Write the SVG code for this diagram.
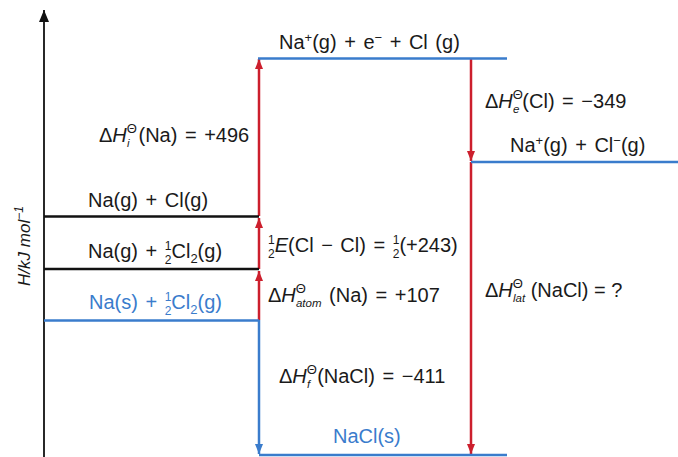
<svg xmlns="http://www.w3.org/2000/svg" width="678" height="457" viewBox="0 0 678 457">
<defs>
<style>
text{font-family:"Liberation Sans","DejaVu Sans",sans-serif;font-size:20px;fill:#1a1a1a;word-spacing:2px}
.b{fill:#3a7ccc}
.it{font-style:italic}
.s{font-size:13px}
.fr{font-size:12px}
.sub{font-size:11.5px;font-style:italic}
.lvK{stroke:#111;stroke-width:2.5;fill:none}
.lvB{stroke:#3a7ccc;stroke-width:2.5;fill:none}
.ar{stroke:#cc1f2d;stroke-width:2.5;fill:none}
.ab{stroke:#3a7ccc;stroke-width:2.5;fill:none}
</style>
<marker id="mr" viewBox="0 0 10 8" refX="10" refY="4" markerWidth="10" markerHeight="8" markerUnits="userSpaceOnUse" orient="auto"><path d="M0,0 L10,4 L0,8 z" fill="#cc1f2d"/></marker>
<marker id="mb" viewBox="0 0 10 8" refX="10" refY="4" markerWidth="10" markerHeight="8" markerUnits="userSpaceOnUse" orient="auto"><path d="M0,0 L10,4 L0,8 z" fill="#3a7ccc"/></marker>
<marker id="mk" viewBox="0 0 12 10" refX="12" refY="5" markerWidth="12" markerHeight="10" markerUnits="userSpaceOnUse" orient="auto"><path d="M0,0 L12,5 L0,10 z" fill="#111"/></marker>
</defs>

<g id="axis">
<line x1="44" y1="457" x2="44" y2="10" stroke="#111" stroke-width="1.8" marker-end="url(#mk)"/>
<text class="it" transform="translate(30,246) rotate(-90)" text-anchor="middle" style="font-size:17px;word-spacing:0">H/kJ mol<tspan style="font-size:12px" dy="-7">−1</tspan></text>
</g>

<g id="connectors">
<line class="ar" x1="259" y1="320" x2="259" y2="271" marker-end="url(#mr)"/>
<line class="ar" x1="259" y1="269" x2="259" y2="218" marker-end="url(#mr)"/>
<line class="ar" x1="259" y1="216" x2="259" y2="59" marker-end="url(#mr)"/>
<line class="ar" x1="471" y1="59" x2="471" y2="161" marker-end="url(#mr)"/>
<line class="ar" x1="471" y1="162" x2="471" y2="454" marker-end="url(#mr)"/>
<line class="ab" x1="259" y1="320" x2="259" y2="454" marker-end="url(#mb)"/>
</g>

<g id="level-ion-e">
<line class="lvB" x1="258" y1="58.5" x2="507" y2="58.5"/>
<text x="279" y="49">Na<tspan class="s" dy="-7">+</tspan><tspan dy="7">(g) + e</tspan><tspan class="s" dy="-7">−</tspan><tspan dy="7"> + Cl (g)</tspan></text>
</g>

<g id="level-ions">
<line class="lvB" x1="471" y1="162" x2="678" y2="162"/>
<text x="510" y="152">Na<tspan class="s" dy="-7">+</tspan><tspan dy="7">(g) + Cl</tspan><tspan class="s" dy="-7">−</tspan><tspan dy="7">(g)</tspan></text>
</g>

<g id="level-atoms">
<line class="lvK" x1="44" y1="216.5" x2="259" y2="216.5"/>
<text x="88" y="207">Na(g) + Cl(g)</text>
</g>

<g id="level-na-g">
<line class="lvK" x1="44" y1="269" x2="259" y2="269"/>
<text x="88" y="258">Na(g) + <tspan class="fr" dy="-8.5">1</tspan><tspan class="fr" dx="-6.7" dy="14">2</tspan><tspan dy="-5.5">Cl</tspan><tspan class="s" dy="5">2</tspan><tspan dy="-5">(g)</tspan></text>
</g>

<g id="level-elements">
<line class="lvB" x1="44" y1="320.5" x2="259" y2="320.5"/>
<text class="b" x="89" y="309">Na(s) + <tspan class="fr" dy="-8.5">1</tspan><tspan class="fr" dx="-6.7" dy="14">2</tspan><tspan dy="-5.5">Cl</tspan><tspan class="s" dy="5">2</tspan><tspan dy="-5">(g)</tspan></text>
</g>

<g id="level-nacl">
<line class="lvB" x1="259" y1="455" x2="507" y2="455"/>
<text class="b" x="333" y="443">NaCl(s)</text>
</g>

<g id="labels">
<text x="99" y="142">Δ<tspan class="it">H</tspan><tspan class="s" dy="-9">Θ</tspan><tspan class="sub" dx="-10" dy="14">i</tspan><tspan dx="9" dy="-5">(Na) = +496</tspan></text>
<text x="268" y="252"><tspan class="fr" dy="-8.5">1</tspan><tspan class="fr" dx="-6.7" dy="14">2</tspan><tspan class="it" dy="-5.5">E</tspan><tspan>(Cl − Cl) = </tspan><tspan class="fr" dy="-8.5">1</tspan><tspan class="fr" dx="-6.7" dy="14">2</tspan><tspan dy="-5.5">(+243)</tspan></text>
<text x="268" y="302">Δ<tspan class="it">H</tspan><tspan class="s" dy="-9">Θ</tspan><tspan class="sub" dx="-10" dy="14">atom</tspan><tspan dy="-5"> (Na) = +107</tspan></text>
<text x="279" y="383">Δ<tspan class="it">H</tspan><tspan class="s" dy="-9">Θ</tspan><tspan class="sub" dx="-10" dy="14">f</tspan><tspan dx="7" dy="-5">(NaCl) = −411</tspan></text>
<text x="485" y="108">Δ<tspan class="it">H</tspan><tspan class="s" dy="-9">Θ</tspan><tspan class="sub" dx="-10" dy="14">e</tspan><tspan dx="3" dy="-5">(Cl) = −349</tspan></text>
<text x="485" y="297" style="word-spacing:0">Δ<tspan class="it">H</tspan><tspan class="s" dy="-9">Θ</tspan><tspan class="sub" dx="-10" dy="14">lat</tspan><tspan dy="-5"> (NaCl) = ?</tspan></text>
</g>
</svg>
